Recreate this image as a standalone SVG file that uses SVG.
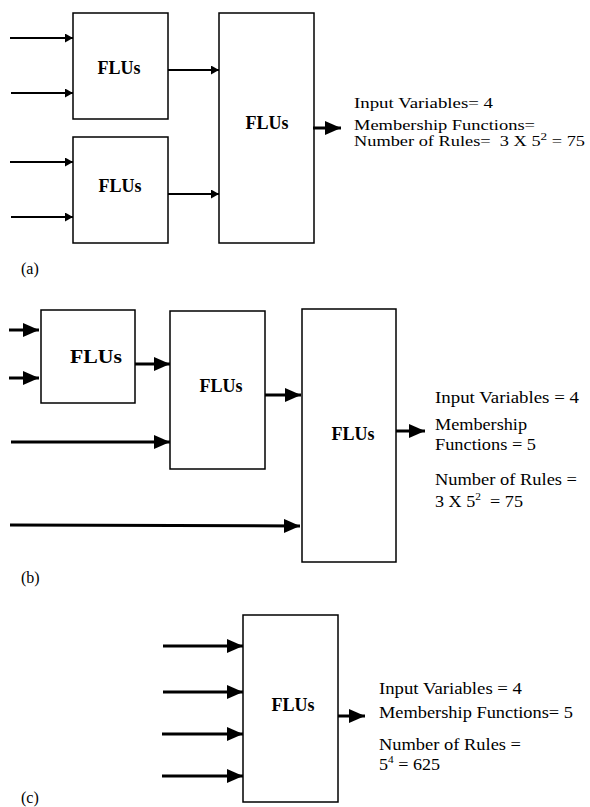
<svg xmlns="http://www.w3.org/2000/svg" width="590" height="807" viewBox="0 0 590 807">
  <style>
    .box { fill: #fff; stroke: #000; stroke-width: 1.5; }
    .lbl { font-family: "Liberation Serif", "Times New Roman", serif; font-weight: bold; font-size: 18px; text-anchor: middle; fill: #000; }
    .info { font-family: "Liberation Serif", "Times New Roman", serif; font-size: 16px; fill: #000; }
    .info-a { font-family: "Liberation Serif", "Times New Roman", serif; font-size: 14px; fill: #000; }
    .cap { font-family: "Liberation Serif", "Times New Roman", serif; font-size: 16px; fill: #000; }
    .sup { font-size: 10px; }
    .thin { stroke: #000; stroke-width: 2; fill: none; }
    .thick { stroke: #000; stroke-width: 3; fill: none; }
    .ah-s { marker-end: url(#headS); }
    .ah-l { marker-end: url(#headL); }
  </style>
  <defs>
    <marker id="headS" markerUnits="userSpaceOnUse" markerWidth="9" markerHeight="10" refX="8" refY="4.5" orient="auto">
      <path d="M0,0 L8,4.5 L0,9 z" fill="#000"/>
    </marker>
    <marker id="headL" markerUnits="userSpaceOnUse" markerWidth="17" markerHeight="15" refX="16" refY="7" orient="auto">
      <path d="M0,0 L16,7 L0,14 z" fill="#000"/>
    </marker>
  </defs>

  <rect width="590" height="807" fill="#fff"/>

  <!-- (a) two-level hierarchy -->
  <g id="a-flu1"><rect class="box" x="73" y="13" width="95" height="106"/><text class="lbl" x="119" y="74">FLUs</text></g>
  <g id="a-flu2"><rect class="box" x="73" y="137" width="95" height="106"/><text class="lbl" x="120" y="192">FLUs</text></g>
  <g id="a-flu3"><rect class="box" x="219" y="13" width="95" height="230"/><text class="lbl" x="267" y="129">FLUs</text></g>
  <g id="a-info" class="info-a">
    <text x="354" y="108" textLength="139" lengthAdjust="spacingAndGlyphs">Input Variables= 4</text>
    <text x="354" y="130" textLength="181" lengthAdjust="spacingAndGlyphs">Membership Functions=</text>
    <text x="354" y="146" textLength="231" lengthAdjust="spacingAndGlyphs">Number of Rules=&#160; 3 X 5<tspan class="sup" dy="-6">2</tspan><tspan dy="6"> = 75</tspan></text>
  </g>
  <text class="cap" x="21" y="274">(a)</text>

  <!-- (b) cascaded hierarchy -->
  <g id="b-flu1"><rect class="box" x="41" y="310" width="94" height="93"/><text class="lbl" x="96" y="363" textLength="52" lengthAdjust="spacingAndGlyphs">FLUs</text></g>
  <g id="b-flu2"><rect class="box" x="170" y="311" width="95" height="158"/><text class="lbl" x="221" y="392">FLUs</text></g>
  <g id="b-flu3"><rect class="box" x="302" y="309" width="94" height="253"/><text class="lbl" x="353" y="440">FLUs</text></g>
  <g id="b-info" class="info">
    <text x="435" y="403" textLength="144" lengthAdjust="spacingAndGlyphs">Input Variables = 4</text>
    <text x="435" y="430" textLength="92" lengthAdjust="spacingAndGlyphs">Membership</text>
    <text x="435" y="450" textLength="101" lengthAdjust="spacingAndGlyphs">Functions = 5</text>
    <text x="435" y="485" textLength="142" lengthAdjust="spacingAndGlyphs">Number of Rules =</text>
    <text x="435" y="507" textLength="88" lengthAdjust="spacingAndGlyphs">3 X 5<tspan class="sup" dy="-7">2</tspan><tspan dy="7">&#160; = 75</tspan></text>
  </g>
  <text class="cap" x="21" y="583">(b)</text>

  <!-- (c) single flat unit -->
  <g id="c-flu"><rect class="box" x="243" y="615" width="95" height="187"/><text class="lbl" x="293" y="711">FLUs</text></g>
  <g id="c-info" class="info">
    <text x="379" y="694" textLength="143" lengthAdjust="spacingAndGlyphs">Input Variables = 4</text>
    <text x="379" y="718" textLength="194" lengthAdjust="spacingAndGlyphs">Membership Functions= 5</text>
    <text x="379" y="750" textLength="142" lengthAdjust="spacingAndGlyphs">Number of Rules =</text>
    <text x="379" y="770" textLength="61" lengthAdjust="spacingAndGlyphs">5<tspan class="sup" dy="-7">4</tspan><tspan dy="7"> = 625</tspan></text>
  </g>
  <text class="cap" x="21" y="803">(c)</text>

  <g id="connectors">
    <!-- (a) -->
    <line class="thin ah-s" x1="10" y1="38" x2="73" y2="38"/>
    <line class="thin ah-s" x1="11" y1="93" x2="73" y2="93"/>
    <line class="thin ah-s" x1="10" y1="162" x2="73" y2="162"/>
    <line class="thin ah-s" x1="11" y1="217" x2="73" y2="217"/>
    <line class="thin ah-s" x1="168" y1="70" x2="219" y2="70"/>
    <line class="thin ah-s" x1="168" y1="194" x2="219" y2="194"/>
    <line class="thick ah-l" x1="313" y1="128" x2="341" y2="128"/>
    <!-- (b) -->
    <line class="thick ah-l" x1="9" y1="330" x2="39" y2="330"/>
    <line class="thick ah-l" x1="9" y1="378" x2="39" y2="378"/>
    <line class="thick ah-l" x1="135" y1="364" x2="170" y2="364"/>
    <line class="thick ah-l" x1="11" y1="442" x2="170" y2="442"/>
    <line class="thick ah-l" x1="265" y1="395" x2="301" y2="395"/>
    <line class="thick ah-l" x1="10" y1="525" x2="300" y2="526"/>
    <line class="thick ah-l" x1="396" y1="431" x2="425" y2="431"/>
    <!-- (c) -->
    <line class="thick ah-l" x1="163" y1="646" x2="243" y2="646"/>
    <line class="thick ah-l" x1="163" y1="692" x2="243" y2="692"/>
    <line class="thick ah-l" x1="162" y1="734" x2="243" y2="734"/>
    <line class="thick ah-l" x1="162" y1="776" x2="243" y2="776"/>
    <line class="thick ah-l" x1="338" y1="716" x2="365" y2="716"/>
  </g>
</svg>
